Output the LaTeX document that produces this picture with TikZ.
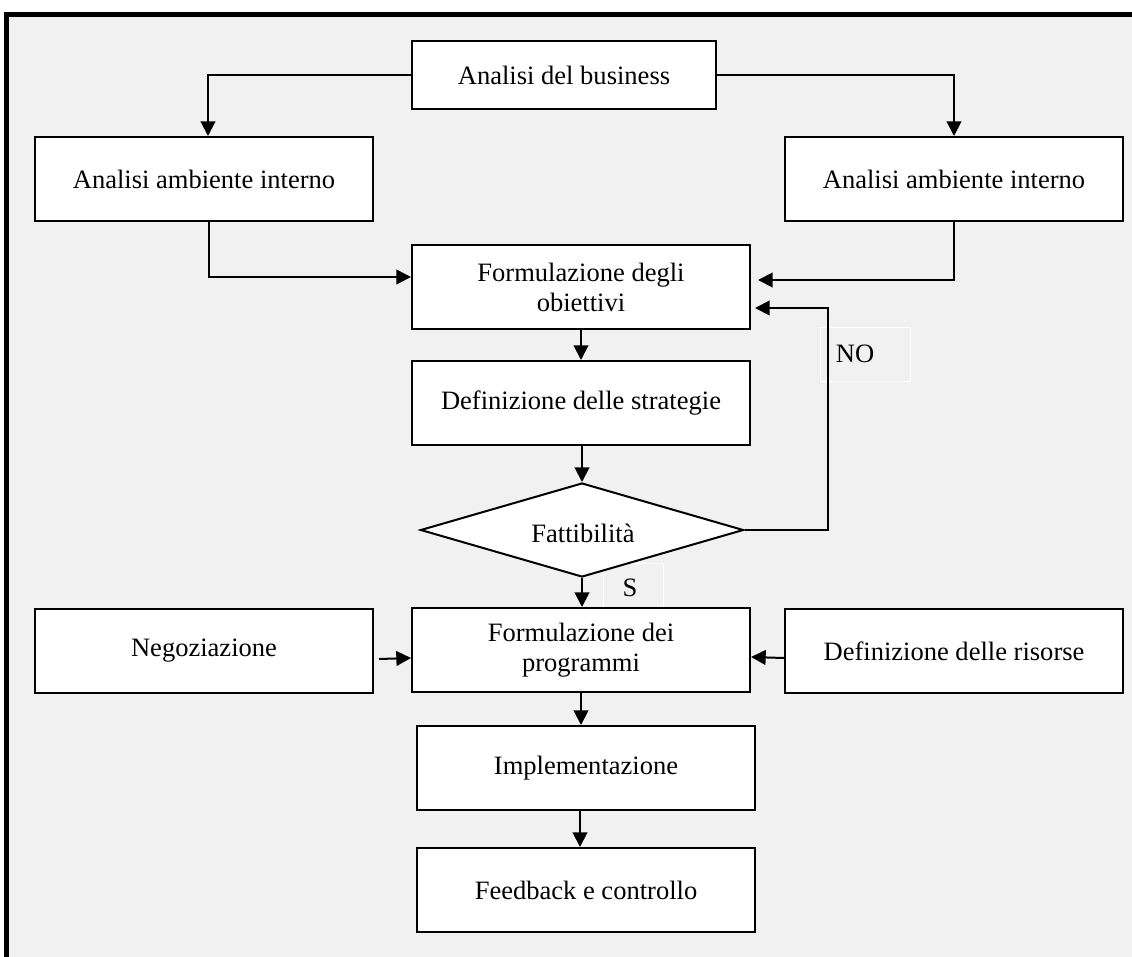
\documentclass[tikz,border=0pt]{standalone}
\usepackage{fontspec}
\setmainfont{Liberation Serif}
\usetikzlibrary{shapes.geometric,arrows.meta,calc}
\definecolor{panel}{RGB}{241,241,241}
\begin{document}
\begin{tikzpicture}[x=0.75pt,y=-0.75pt,
  font=\fontsize{19.9}{22.5}\selectfont,
  box/.style={draw=black,fill=white,line width=1.5pt,minimum width=253.5pt,
    minimum height=63pt,inner sep=0pt,align=center},
  conn/.style={draw=black,line width=1.5pt,-{Triangle[length=11pt,width=11pt]}},
  tag/.style={draw=white,line width=0.75pt}]
\useasboundingbox (0,0) rectangle (1132,957);
% panel and its frame
\fill[panel] (4,12) rectangle (1132,957);
\draw[line width=3.75pt] (6.5,957) -- (6.5,14) -- (1132,14);

% label frames
\draw[tag] (820,327) rectangle (910,381);
\draw[tag] (603,563) rectangle (663,608);

% boxes
\node[box,minimum width=228pt,minimum height=51pt] (biz) at (564,75) {Analisi del business};
\node[box] (amb1) at (204,179) {Analisi ambiente interno};
\node[box] (amb2) at (954,179) {Analisi ambiente interno};
\node[box] (obj) at (581,287) {Formulazione degli\\obiettivi};
\node[box] (strat) at (581,403) {Definizione delle strategie};
\node[draw=black,fill=white,line width=1.5pt,shape=diamond,inner sep=0pt,
  minimum width=242.25pt,minimum height=70.5pt] (dia) at (582,530) {};
\node (diat) at (583,533) {Fattibilità};
\node[box] (prog) at (581,650) {Formulazione dei\\programmi};
\node[box] (neg) at (204,651) {Negoziazione};
\node[box] (ris) at (954,651) {Definizione delle risorse};
\node[box] (impl) at (586,768) {Implementazione};
\node[box] (feed) at (586,890) {Feedback e controllo};

% labels
\node (no) at (855,354) {NO};
\node (si) at (630,588) {S};

% connectors
\coordinate (noturn) at (828,308);
\draw[conn] (biz.west) -| ([xshift=3pt]amb1.north);
\draw[conn] (biz.east) -| (amb2.north);
\draw[conn] ([xshift=3.75pt]amb1.south) |- (obj.west |- 0,277);
\draw[conn] (amb2.south) |- ($(obj.east)+(7,-7)$);
\draw[conn] (obj.south) -- (strat.north);
\draw[conn] (dia.north |- strat.south) -- (dia.north);
\draw[conn] (dia.south) -- (dia.south |- prog.north);
\draw[conn] (dia.east) -| (noturn) -- ($(obj.east)+(4,21)$);
\draw[conn] ($(neg.east)+(5,8)$) -- ($(prog.west)+(0,8)$);
\draw[conn] ($(ris.west)+(0,7)$) -- ($(prog.east)+(0,7)$);
\draw[conn] (prog.south) -- (prog.south |- impl.north);
\draw[conn] ($(impl.south)+(-6,0)$) -- ($(feed.north)+(-6,0)$);
\end{tikzpicture}
\end{document}
